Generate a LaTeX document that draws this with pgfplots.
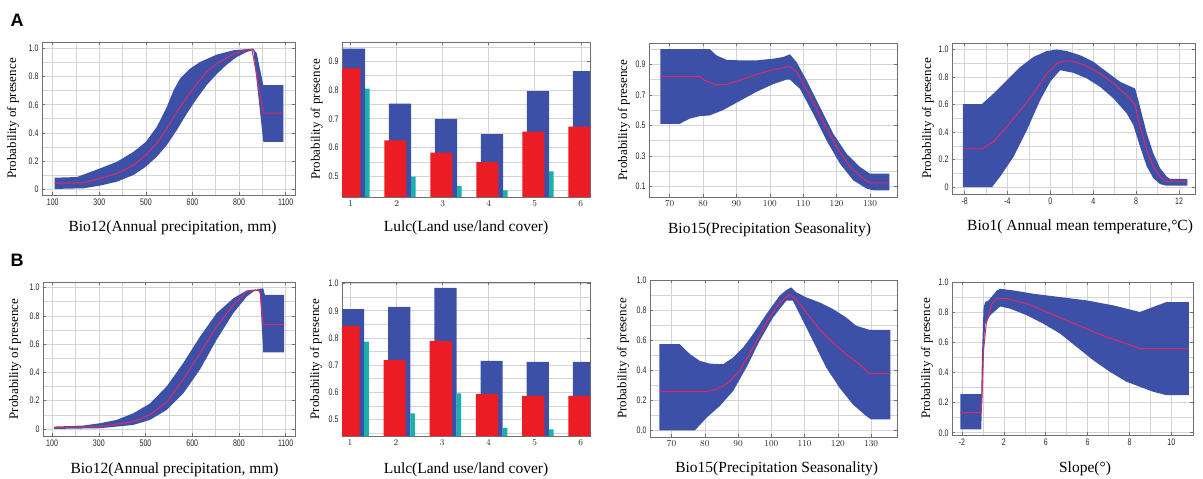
\documentclass[border=0pt]{standalone}
\usepackage{fontspec}
\setmainfont{Liberation Serif}
\newfontfamily\tickfont[FakeStretch=0.74]{Liberation Sans}
\newfontfamily\panelfont{Liberation Sans}
\usepackage{pgfplots}
\pgfplotsset{compat=1.18}
\definecolor{bandblue}{HTML}{3D50A8}
\definecolor{meanred}{HTML}{DC2A64}
\definecolor{barred}{HTML}{EC1C24}
\definecolor{barcyan}{HTML}{19B0AE}
\definecolor{gridgray}{HTML}{D4D4D4}
\definecolor{framegray}{HTML}{707070}
\pgfplotsset{
  panel/.style={
    scale only axis, anchor=south west,
    axis line style={draw=framegray, line width=0.9pt},
    tick style={draw=framegray, line width=0.6pt},
    major tick length=3pt, minor tick length=0pt,
    tick align=inside,
    xtick pos=both, ytick pos=both,
    xticklabel pos=lower, yticklabel pos=left,
    grid=both,
    major grid style={draw=gridgray, line width=0.6pt},
    minor grid style={draw=gridgray, line width=0.6pt},
    ticklabel style={font=\tickfont\fontsize{9.5}{10}\selectfont, text=black!85},
    xlabel style={font=\fontsize{15.5}{17}\selectfont, anchor=center},
    ylabel style={font=\fontsize{13}{15}\selectfont, anchor=center},
  },
  band/.style={fill=bandblue, draw=none},
  mean/.style={meanred, line width=1pt},
}
\begin{document}
\begin{tikzpicture}
\useasboundingbox (0,0) rectangle (1203pt,479pt);
\node[font=\panelfont\bfseries\fontsize{18}{20}\selectfont] at (17pt,459pt) {A};
\node[font=\panelfont\bfseries\fontsize{18}{20}\selectfont] at (17pt,219pt) {B};

% ---------- A1 ----------
\begin{axis}[panel, at={(42pt,284pt)}, width=253pt, height=153pt,
  xmin=54, xmax=1140, ymin=-0.043, ymax=1.047,
  xtick={100,300,500,700,900,1100}, xticklabels={100,300,500,600,800,1100},
  minor xtick={200,400,600,800,1000},
  ytick={0,0.2,0.4,0.6,0.8,1.0}, yticklabels={0,0.2,0.4,0.6,0.8,1.0},
  minor ytick={0.1,0.3,0.5,0.7,0.9},
  xlabel={Bio12(Annual precipitation, mm)}, ylabel={Probability of presence},
  xlabel style={at={(axis description cs:0.516,0)}, yshift=-33pt},
  ylabel style={at={(axis description cs:-0.115,0.5)}}]
\addplot[band] coordinates {(108.6,0.08) (204,0.085) (304,0.147) (376,0.194) (447,0.265) (500,0.336) (547,0.443) (590,0.585) (619,0.704) (647,0.787) (690,0.858) (733,0.905) (804,0.957) (876,0.988) (961,1.0) (976,0.965) (1004,0.74) (1090,0.74)
 (1090,0.336) (1004,0.336) (961,0.99) (933,0.976) (890,0.94) (847,0.886) (804,0.818) (761,0.74) (719,0.645) (676,0.538) (633,0.42) (590,0.313) (547,0.23) (500,0.159) (447,0.1) (376,0.052) (304,0.024) (233,0.005) (108.6,0)};
\addplot[mean] coordinates {(108.6,0.04) (233,0.045) (304,0.076) (376,0.111) (447,0.17) (500,0.242) (547,0.325) (590,0.431) (633,0.55) (676,0.656) (719,0.751) (761,0.834) (804,0.893) (876,0.964) (933,0.993) (955,0.993) (969,0.87) (1004,0.54) (1090,0.54)};
\end{axis}

% ---------- A2 ----------
\begin{axis}[panel, at={(342pt,282pt)}, width=248pt, height=155pt,
  xmin=0.81, xmax=6.2, ymin=0.428, ymax=0.967,
  xtick={1,2,3,4,5,6},
  ytick={0.5,0.6,0.7,0.8,0.9}, yticklabels={0.5,0.6,0.7,0.8,0.9},
  minor ytick={0.45,0.55,0.65,0.75,0.85,0.95},
  xlabel={Lulc(Land use/land cover)}, ylabel={Probability of presence},
  xlabel style={at={(axis description cs:0.5,0)}, yshift=-31pt},
  ylabel style={at={(axis description cs:-0.102,0.5)}}]
\addplot[ybar, bar width=0.48, bar shift=0.07, fill=bandblue, draw=none] coordinates {(1,0.944) (2,0.753) (3,0.70) (4,0.647) (5,0.796) (6,0.866)};
\addplot[ybar, bar width=0.48, bar shift=-0.03, fill=barred, draw=none] coordinates {(1,0.875) (2,0.625) (3,0.582) (4,0.549) (5,0.655) (6,0.673)};
\addplot[ybar, bar width=0.1, bar shift=0.36, fill=barcyan, draw=none] coordinates {(1,0.805) (2,0.499) (3,0.466) (4,0.451) (5,0.517)};
\end{axis}

% ---------- A3 ----------
\begin{axis}[panel, at={(649pt,282pt)}, width=248pt, height=154pt,
  xmin=63.8, xmax=138.1, ymin=0.03, ymax=1.04,
  xtick={70,80,90,100,110,120,130},
  ytick={0.1,0.3,0.5,0.7,0.9}, yticklabels={0.1,0.3,0.5,0.7,0.9},
  minor ytick={0.2,0.4,0.6,0.8,1.0},
  xlabel={Bio15(Precipitation Seasonality)}, ylabel={Probability of presence},
  xlabel style={at={(axis description cs:0.486,0)}, yshift=-33pt},
  ylabel style={at={(axis description cs:-0.101,0.5)}}]
\addplot[band] coordinates {(67.2,1.0) (82,1.0) (84,0.959) (87,0.93) (91,0.926) (96,0.926) (101,0.937) (104,0.948) (106,0.966) (108,0.915) (111,0.795) (115,0.62) (119,0.445) (123,0.314) (127,0.227) (130,0.183) (135.8,0.183)
 (135.8,0.074) (131,0.074) (129,0.085) (125,0.139) (121,0.249) (117,0.40) (113,0.576) (109,0.74) (106,0.80) (105,0.80) (103,0.785) (101,0.77) (96,0.72) (91,0.66) (86,0.60) (82,0.565) (79,0.56) (76,0.544) (73,0.51) (67.2,0.51)};
\addplot[mean] coordinates {(67.2,0.821) (79,0.821) (80.5,0.795) (83.5,0.767) (87,0.769) (91,0.795) (96,0.834) (101,0.865) (106,0.887) (108,0.85) (112,0.697) (116,0.522) (120,0.358) (124,0.227) (128,0.15) (130,0.122) (135.8,0.122)};
\end{axis}

% ---------- A4 ----------
\begin{axis}[panel, at={(952pt,285pt)}, width=243pt, height=151pt,
  xmin=-9.18, xmax=13.49, ymin=-0.05, ymax=1.048,
  xtick={-8,-4,0,4,8,12}, xticklabels={-8,-4,0,4,8,12},
  minor xtick={-6,-2,2,6,10},
  ytick={0,0.2,0.4,0.6,0.8,1.0}, yticklabels={0,0.2,0.4,0.6,0.8,1.0},
  minor ytick={0.1,0.3,0.5,0.7,0.9},
  xlabel={Bio1( Annual mean temperature,°C)}, ylabel={Probability of presence},
  xlabel style={at={(axis description cs:0.527,0)}, yshift=-33pt},
  ylabel style={at={(axis description cs:-0.099,0.5)}}]
\addplot[band] coordinates {(-8.16,0.604) (-6.39,0.604) (-5.3,0.681) (-4.06,0.778) (-2.81,0.874) (-1.57,0.947) (-0.33,0.99) (0.6,1.0) (1.53,0.99) (2.78,0.959) (4.02,0.911) (5.26,0.838) (6.5,0.766) (7.9,0.717) (8.2,0.633) (8.99,0.391) (9.6,0.246) (10.23,0.138) (10.85,0.077) (11.16,0.06) (12.78,0.06)
 (12.78,0.01) (10.85,0.01) (10.23,0.022) (9.6,0.065) (8.99,0.15) (8.36,0.295) (7.73,0.452) (7.12,0.536) (5.88,0.645) (4.64,0.729) (3.4,0.79) (2.16,0.831) (0.91,0.85) (-0.02,0.766) (-0.95,0.633) (-2.19,0.415) (-3.43,0.222) (-4.68,0.077) (-5.45,0) (-8.16,0)};
\addplot[mean] coordinates {(-8.16,0.278) (-6.39,0.278) (-5.3,0.331) (-4.06,0.44) (-2.81,0.56) (-1.57,0.681) (-0.33,0.826) (0.6,0.899) (1.22,0.918) (2.16,0.915) (3.4,0.879) (4.64,0.826) (5.88,0.754) (7.12,0.669) (7.9,0.597) (8.36,0.44) (8.99,0.27) (9.6,0.15) (10.23,0.077) (10.85,0.041) (12.78,0.041)};
\end{axis}

% ---------- B1 ----------
\begin{axis}[panel, at={(43pt,43pt)}, width=252pt, height=154pt,
  xmin=61, xmax=1140, ymin=-0.05, ymax=1.04,
  xtick={100,300,500,700,900,1100}, xticklabels={100,300,500,600,800,1100},
  minor xtick={200,400,600,800,1000},
  ytick={0,0.2,0.4,0.6,0.8,1.0}, yticklabels={0,0.2,0.4,0.6,0.8,1.0},
  minor ytick={0.1,0.3,0.5,0.7,0.9},
  xlabel={Bio12(Annual precipitation, mm)}, ylabel={Probability of presence},
  xlabel style={at={(axis description cs:0.522,0)}, yshift=-34pt},
  ylabel style={at={(axis description cs:-0.111,0.5)}}]
\addplot[band] coordinates {(108.6,0.0165) (233,0.024) (304,0.04) (376,0.064) (447,0.11) (519,0.18) (590,0.30) (661,0.465) (733,0.653) (804,0.818) (876,0.925) (933,0.98) (1004,0.995) (1011,0.948) (1093,0.948)
 (1093,0.542) (1004,0.542) (990,0.96) (976,0.99) (933,0.936) (876,0.82) (804,0.63) (733,0.42) (661,0.25) (590,0.134) (519,0.064) (447,0.028) (304,0.005) (108.6,0)};
\addplot[mean] coordinates {(108.6,0.01) (304,0.017) (447,0.052) (519,0.1) (590,0.19) (661,0.35) (733,0.535) (804,0.724) (876,0.877) (933,0.972) (990,0.983) (1004,0.74) (1093,0.74)};
\end{axis}

% ---------- B2 ----------
\begin{axis}[panel, at={(342pt,43pt)}, width=248pt, height=154pt,
  xmin=0.83, xmax=6.2, ymin=0.439, ymax=1.006,
  xtick={1,2,3,4,5,6},
  ytick={0.5,0.6,0.7,0.8,0.9,1.0}, yticklabels={0.5,0.6,0.7,0.8,0.9,1.0},
  minor ytick={0.45,0.55,0.65,0.75,0.85,0.95},
  xlabel={Lulc(Land use/land cover)}, ylabel={Probability of presence},
  xlabel style={at={(axis description cs:0.5,0)}, yshift=-34pt},
  ylabel style={at={(axis description cs:-0.105,0.5)}}]
\addplot[ybar, bar width=0.48, bar shift=0.07, fill=bandblue, draw=none] coordinates {(1,0.906) (2,0.914) (3,0.984) (4,0.716) (5,0.712) (6,0.712)};
\addplot[ybar, bar width=0.48, bar shift=-0.03, fill=barred, draw=none] coordinates {(1,0.844) (2,0.718) (3,0.789) (4,0.593) (5,0.587) (6,0.587)};
\addplot[ybar, bar width=0.1, bar shift=0.36, fill=barcyan, draw=none] coordinates {(1,0.786) (2,0.522) (3,0.596) (4,0.469) (5,0.463)};
\end{axis}

% ---------- B3 ----------
\begin{axis}[panel, at={(650pt,42pt)}, width=247pt, height=157pt,
  xmin=63.5, xmax=137.8, ymin=-0.044, ymax=1.0,
  xtick={70,80,90,100,110,120,130},
  ytick={0,0.2,0.4,0.6,0.8,1.0}, yticklabels={0.0,0.2,0.4,0.6,0.8,1.0},
  minor ytick={0.1,0.3,0.5,0.7,0.9},
  xlabel={Bio15(Precipitation Seasonality)}, ylabel={Probability of presence},
  xlabel style={at={(axis description cs:0.513,0)}, yshift=-32pt},
  ylabel style={at={(axis description cs:-0.109,0.5)}}]
\addplot[band] coordinates {(66.3,0.573) (72.5,0.573) (75.5,0.507) (78.5,0.462) (81.5,0.444) (85.5,0.44) (88.5,0.484) (91.5,0.551) (94.5,0.64) (98.5,0.773) (102.5,0.896) (104.5,0.933) (106,0.951) (107.5,0.918) (110.5,0.884) (114.5,0.851) (118.5,0.807) (122.5,0.751) (125.5,0.696) (129.5,0.669) (135.8,0.669)
 (135.8,0.073) (130,0.073) (128.5,0.096) (124.5,0.173) (120.5,0.284) (116.5,0.418) (112.5,0.596) (108.5,0.773) (106.5,0.862) (104.5,0.862) (100.5,0.751) (96.5,0.596) (92.5,0.418) (88.5,0.262) (84.5,0.162) (80.5,0.084) (77,0) (66.3,0)};
\addplot[mean] coordinates {(66.3,0.258) (80.5,0.258) (83.5,0.273) (86.5,0.307) (90.5,0.396) (94.5,0.551) (98.5,0.718) (102.5,0.851) (105.5,0.902) (107.5,0.873) (110.5,0.784) (114.5,0.673) (118.5,0.584) (122.5,0.507) (126.5,0.44) (129.5,0.378) (135.8,0.378)};
\end{axis}

% ---------- B4 ----------
\begin{axis}[panel, at={(952pt,44pt)}, width=241pt, height=153pt,
  xmin=-0.238, xmax=5.516, ymin=-0.015, ymax=1.0,
  xtick={0,1,2,3,4,5}, xticklabels={-2,2,6,6,8,10},
  minor xtick={0.5,1.5,2.5,3.5,4.5},
  ytick={0,0.2,0.4,0.6,0.8,1.0}, yticklabels={0.0,0.2,0.4,0.6,0.8,1.0},
  minor ytick={0.1,0.3,0.5,0.7,0.9},
  xlabel={Slope(°)}, ylabel={Probability of presence},
  xlabel style={at={(axis description cs:0.552,0)}, yshift=-34pt},
  ylabel style={at={(axis description cs:-0.104,0.5)}}]
\addplot[band] coordinates {(-0.04,0.256) (0.46,0.256) (0.476,0.503) (0.516,0.834) (0.556,0.867) (0.635,0.878) (0.833,0.944) (0.913,0.955) (1.23,0.944) (1.706,0.922) (2.341,0.9) (2.976,0.878) (3.611,0.845) (4.246,0.801) (4.881,0.867) (5.42,0.867)
 (5.42,0.249) (4.881,0.249) (4.563,0.272) (4.246,0.305) (3.929,0.338) (3.532,0.404) (3.135,0.481) (2.738,0.569) (2.341,0.658) (1.944,0.723) (1.548,0.779) (1.151,0.823) (0.913,0.838) (0.675,0.779) (0.556,0.723) (0.516,0.547) (0.476,0.172) (0.46,0.022) (-0.04,0.022)};
\addplot[mean] coordinates {(-0.04,0.134) (0.46,0.134) (0.476,0.215) (0.516,0.547) (0.58,0.723) (0.714,0.856) (0.833,0.89) (1.071,0.89) (1.548,0.856) (2.024,0.801) (2.5,0.746) (2.976,0.69) (3.452,0.635) (3.929,0.591) (4.246,0.558) (5.42,0.558)};
\end{axis}
\end{tikzpicture}
\end{document}
